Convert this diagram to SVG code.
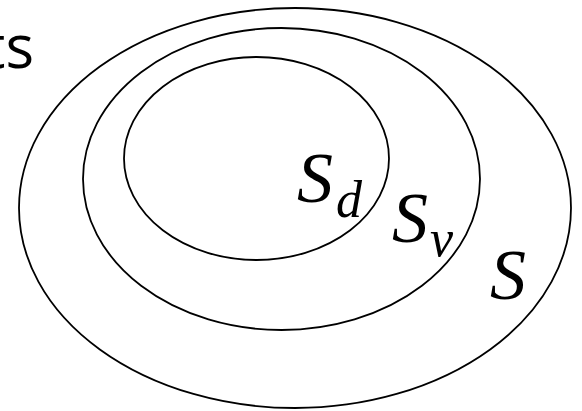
<svg xmlns="http://www.w3.org/2000/svg" width="582" height="411" viewBox="0 0 582 411">
<style>
.set{fill:none;stroke:#000;stroke-width:1.8}
.lbl{font-family:"Liberation Serif","DejaVu Serif",serif;font-style:italic;fill:#000}
.big{font-size:72px}
.sub{font-size:52px}
.ttl{font-family:"Open Sans","Liberation Sans",sans-serif;font-size:60px;fill:#000}
</style>
<rect width="582" height="411" fill="#fff"/>
<text class="ttl" x="34" y="68" text-anchor="end">ts</text>
<g id="S">
<ellipse class="set" cx="295" cy="208" rx="276" ry="200"/>
<text class="lbl big" x="490" y="299">S</text>
</g>
<g id="Sv">
<ellipse class="set" cx="281.5" cy="179" rx="198.5" ry="151"/>
<text class="lbl big" x="392" y="242">S</text><text class="lbl sub" x="430" y="256">v</text>
</g>
<g id="Sd">
<ellipse class="set" cx="256.5" cy="158.5" rx="132.5" ry="101.5"/>
<text class="lbl big" x="297" y="202">S</text><text class="lbl sub" x="336" y="217">d</text>
</g>
<g id="connectors"/>
</svg>
